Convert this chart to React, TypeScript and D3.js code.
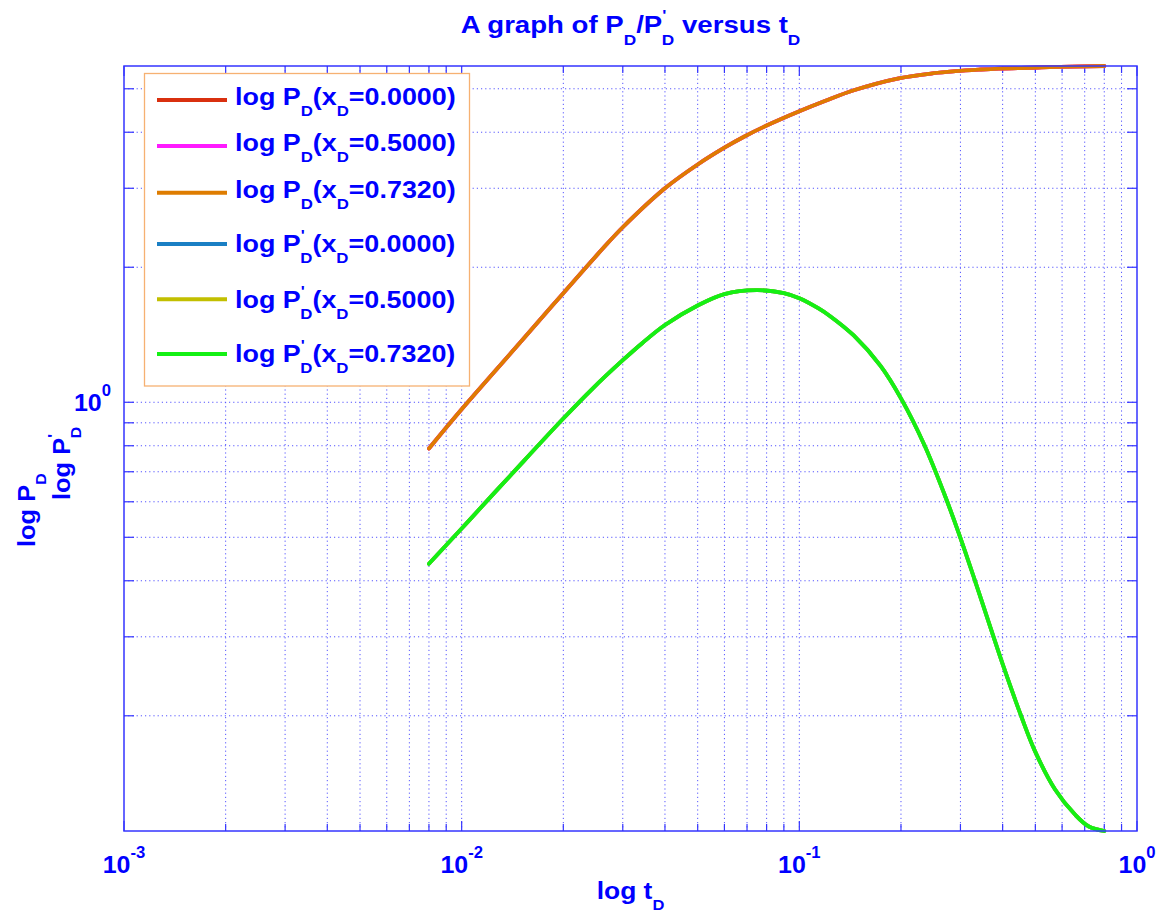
import React from 'react';
import * as d3 from 'd3';

// ---------- data ----------
const xLimits = [0.001, 1];
const xDValues = [0.0, 0.5, 0.732];

const tPD = [0.008, 0.01, 0.0149, 0.02, 0.0265, 0.03, 0.04, 0.05, 0.06, 0.069, 0.08, 0.1, 0.119, 0.145, 0.197, 0.25, 0.29, 0.34, 0.39, 0.55, 0.8];
const pdX0 = [0.789, 0.965, 1.359, 1.751, 2.224, 2.456, 3.0, 3.39, 3.695, 3.919, 4.14, 4.455, 4.695, 4.962, 5.276, 5.416, 5.472, 5.516, 5.546, 5.585, 5.62];
const pdX05 = [0.789, 0.965, 1.359, 1.751, 2.224, 2.456, 3.0, 3.39, 3.695, 3.919, 4.14, 4.455, 4.695, 4.962, 5.276, 5.416, 5.472, 5.516, 5.546, 5.585, 5.62];
const pdX0732 = [0.789, 0.965, 1.359, 1.751, 2.224, 2.456, 3.0, 3.39, 3.695, 3.919, 4.14, 4.455, 4.695, 4.962, 5.276, 5.416, 5.472, 5.516, 5.546, 5.585, 5.62];

const tDPD = [0.008, 0.01, 0.0123, 0.0141, 0.02, 0.0243, 0.03, 0.0343, 0.04, 0.05, 0.06, 0.0747, 0.09, 0.1, 0.1137, 0.1234, 0.1449, 0.174, 0.2, 0.2344, 0.2693, 0.299, 0.3306, 0.3705, 0.4013, 0.4547, 0.4983, 0.572, 0.6563, 0.72, 0.8];
const dpdX0 = [0.4365, 0.523, 0.62, 0.693, 0.92, 1.069, 1.241, 1.356, 1.487, 1.644, 1.743, 1.778, 1.752, 1.706, 1.621, 1.556, 1.409, 1.205, 1.02, 0.804, 0.622, 0.502, 0.402, 0.31, 0.259, 0.199, 0.167, 0.137, 0.1203, 0.1133, 0.1107];
const dpdX05 = [0.4365, 0.523, 0.62, 0.693, 0.92, 1.069, 1.241, 1.356, 1.487, 1.644, 1.743, 1.778, 1.752, 1.706, 1.621, 1.556, 1.409, 1.205, 1.02, 0.804, 0.622, 0.502, 0.402, 0.31, 0.259, 0.199, 0.167, 0.137, 0.1203, 0.1133, 0.1107];
const dpdX0732 = [0.4365, 0.523, 0.62, 0.693, 0.92, 1.069, 1.241, 1.356, 1.487, 1.644, 1.743, 1.778, 1.752, 1.706, 1.621, 1.556, 1.409, 1.205, 1.02, 0.804, 0.622, 0.502, 0.402, 0.31, 0.259, 0.199, 0.167, 0.137, 0.1203, 0.1133, 0.1107];

const titleText = "A graph of P_D/P^'_D versus t_D";
const xLabelText = 'log t_D';
const yLabelLines = ['log P_D', "log P^'_D"];

// ---------- styles ----------
const FONT = "'Liberation Sans', Arial, Helvetica, sans-serif";
const BLUE = '#0000ff';
const AXIS = '#3434ff';
const GRID = '#3a3aff';
const pdColors = ['#d9300f', '#ff1aff', '#de7c00'];
const dpdColors = ['#1a7fc4', '#c2bf00', '#14f014'];

type Seg = { s: string; k: 'n' | 'sub' | 'sup'; back?: number };

function parseTex(s: string, small: number): Seg[] {
  const out: Seg[] = [];
  let buf = '';
  let i = 0;
  const flush = () => {
    if (buf) {
      out.push({ s: buf, k: 'n' });
      buf = '';
    }
  };
  while (i < s.length) {
    const c = s[i];
    if (c === '_' || c === '^') {
      flush();
      let arg: string;
      if (s[i + 1] === '{') {
        const j = s.indexOf('}', i);
        arg = s.slice(i + 2, j);
        i = j + 1;
      } else {
        arg = s[i + 1];
        i += 2;
      }
      const prev = out[out.length - 1];
      let back = 0;
      if (c === '_' && prev && prev.k === 'sup') {
        back = prev.s === "'" ? 0.26 * small : 0.55 * small * prev.s.length;
      }
      out.push({ s: arg, k: c === '_' ? 'sub' : 'sup', back });
    } else {
      buf += c;
      i++;
    }
  }
  flush();
  return out;
}

function Rich(props: {
  tex: string; x: number; y: number; size: number; small: number;
  subDy: number; supDy: number; anchor?: string; sx?: number; rotate?: number;
}) {
  const { tex, x, y, size, small, subDy, supDy, anchor = 'start', sx = 1, rotate = 0 } = props;
  const segs = parseTex(tex, small);
  let cur = 0;
  const spans = segs.map((sg, i) => {
    const target = sg.k === 'sub' ? subDy : sg.k === 'sup' ? -supDy : 0;
    const fs = sg.k === 'n' ? size : small;
    const el = (
      <tspan key={i} dy={target - cur} dx={sg.back ? -sg.back : undefined} fontSize={fs}>
        {sg.s}
      </tspan>
    );
    cur = target;
    return el;
  });
  return (
    <g transform={`translate(${x},${y}) rotate(${rotate}) scale(${sx},1)`}>
      <text textAnchor={anchor as any} fill={BLUE} fontWeight="bold" fontFamily={FONT} style={{ whiteSpace: 'pre' }}>
        {spans}
      </text>
    </g>
  );
}

export default function App() {
  const W = 1161, H = 915;
  const L = 124, R = 1137, T = 66, B = 831;

  const x = d3.scaleLog().domain(xLimits).range([L, R]);
  const yExt = d3.extent([...pdX0, ...pdX05, ...pdX0732, ...dpdX0, ...dpdX05, ...dpdX0732]) as [number, number];
  const y = d3.scaleLog().domain(yExt).range([B, T]);

  const line = d3
    .line<[number, number]>()
    .x((d) => x(d[0]))
    .y((d) => y(d[1]))
    .curve(d3.curveCatmullRom.alpha(0.5));

  const pdSeries = [pdX0, pdX05, pdX0732];
  const dpdSeries = [dpdX0, dpdX05, dpdX0732];

  const xTicks = x.ticks();
  const yTicks = y.ticks();
  const isMajor = (v: number) => Math.abs(Math.log10(v) - Math.round(Math.log10(v))) < 1e-9;

  const legendItems = [
    ...xDValues.map((v, i) => ({ tex: `log P_D(x_D=${v.toFixed(4)})`, color: pdColors[i] })),
    ...xDValues.map((v, i) => ({ tex: `log P^'_D(x_D=${v.toFixed(4)})`, color: dpdColors[i] })),
  ];
  const legendLineY = [100, 146, 192.7, 244, 299.3, 354];
  const legendBaseY = [104.5, 151, 197.7, 251.5, 307.5, 362];

  return (
    <svg
      width={W}
      height={H}
      style={{ position: 'absolute', left: 0, top: 0, background: '#fff' }}
      xmlns="http://www.w3.org/2000/svg"
    >
      <defs>
        <clipPath id="plotClip">
          <rect x={L} y={T - 2} width={R - L} height={B - T + 4} />
        </clipPath>
      </defs>
      <rect x={0} y={0} width={W} height={H} fill="#fff" />

      {/* grid */}
      <g stroke={GRID} strokeWidth={1} strokeDasharray="1.2 3" opacity={0.85}>
        {xTicks
          .filter((v) => x(v) > L + 1 && x(v) < R - 1)
          .map((v, i) => (
            <line key={'gx' + i} x1={x(v)} x2={x(v)} y1={T} y2={B} />
          ))}
        {yTicks
          .filter((v) => y(v) > T + 1 && y(v) < B - 1)
          .map((v, i) => (
            <line key={'gy' + i} x1={L} x2={R} y1={y(v)} y2={y(v)} />
          ))}
      </g>

      {/* ticks */}
      <g stroke={AXIS} strokeWidth={1.2}>
        {xTicks.map((v, i) => {
          const len = isMajor(v) ? 10 : 7;
          return (
            <g key={'tx' + i}>
              <line x1={x(v)} x2={x(v)} y1={B} y2={B - len} />
              <line x1={x(v)} x2={x(v)} y1={T} y2={T + len} />
            </g>
          );
        })}
        {yTicks.map((v, i) => {
          const len = 10;
          return (
            <g key={'ty' + i}>
              <line x1={L} x2={L + len} y1={y(v)} y2={y(v)} />
              <line x1={R} x2={R - len} y1={y(v)} y2={y(v)} />
            </g>
          );
        })}
      </g>

      {/* curves */}
      <g clipPath="url(#plotClip)" fill="none" strokeWidth={3.8} strokeLinejoin="round" strokeLinecap="round">
        {pdSeries.map((s, i) => (
          <path key={'pd' + i} d={line(tPD.map((t, j) => [t, s[j]] as [number, number])) || ''} stroke={pdColors[i]} />
        ))}
        {dpdSeries.map((s, i) => (
          <path key={'dpd' + i} d={line(tDPD.map((t, j) => [t, s[j]] as [number, number])) || ''} stroke={dpdColors[i]} />
        ))}
      </g>

      {/* frame */}
      <rect x={L} y={T} width={R - L} height={B - T} fill="none" stroke={AXIS} strokeWidth={1.5} />

      {/* x tick labels */}
      {xTicks.filter(isMajor).map((v, i) => (
        <Rich
          key={'xl' + i}
          tex={`10^{${Math.round(Math.log10(v))}}`}
          x={x(v)}
          y={873}
          size={24}
          small={16}
          subDy={11}
          supDy={15}
          anchor="middle"
          sx={1.04}
        />
      ))}

      {/* y tick labels */}
      {yTicks.filter(isMajor).map((v, i) => (
        <Rich
          key={'yl' + i}
          tex={`10^{${Math.round(Math.log10(v))}}`}
          x={111}
          y={y(v) + 8.5}
          size={24}
          small={16}
          subDy={11}
          supDy={15}
          anchor="end"
          sx={1.04}
        />
      ))}

      {/* title */}
      <Rich tex={titleText} x={(L + R) / 2} y={33.3} size={24} small={15} subDy={12} supDy={13} anchor="middle" sx={1.15} />

      {/* x label */}
      <Rich tex={xLabelText} x={(L + R) / 2} y={899} size={24} small={15} subDy={11} supDy={13} anchor="middle" sx={1.1} />

      {/* y label (two lines) */}
      <Rich tex={yLabelLines[0]} x={35} y={547} size={24} small={15} subDy={11} supDy={12} rotate={-90} sx={1.06} />
      <Rich tex={yLabelLines[1]} x={70} y={500} size={24} small={15} subDy={11} supDy={12} rotate={-90} sx={1.06} />

      {/* legend */}
      <rect x={144.5} y={73.5} width={325} height={312.5} fill="#fff" stroke="#f6b172" strokeWidth={1.3} />
      {legendItems.map((it, i) => (
        <g key={'lg' + i}>
          <line x1={157} x2={227} y1={legendLineY[i]} y2={legendLineY[i]} stroke={it.color} strokeWidth={4} />
          <Rich tex={it.tex} x={235} y={legendBaseY[i]} size={24} small={15} subDy={11} supDy={12} sx={1.12} />
        </g>
      ))}
    </svg>
  );
}
